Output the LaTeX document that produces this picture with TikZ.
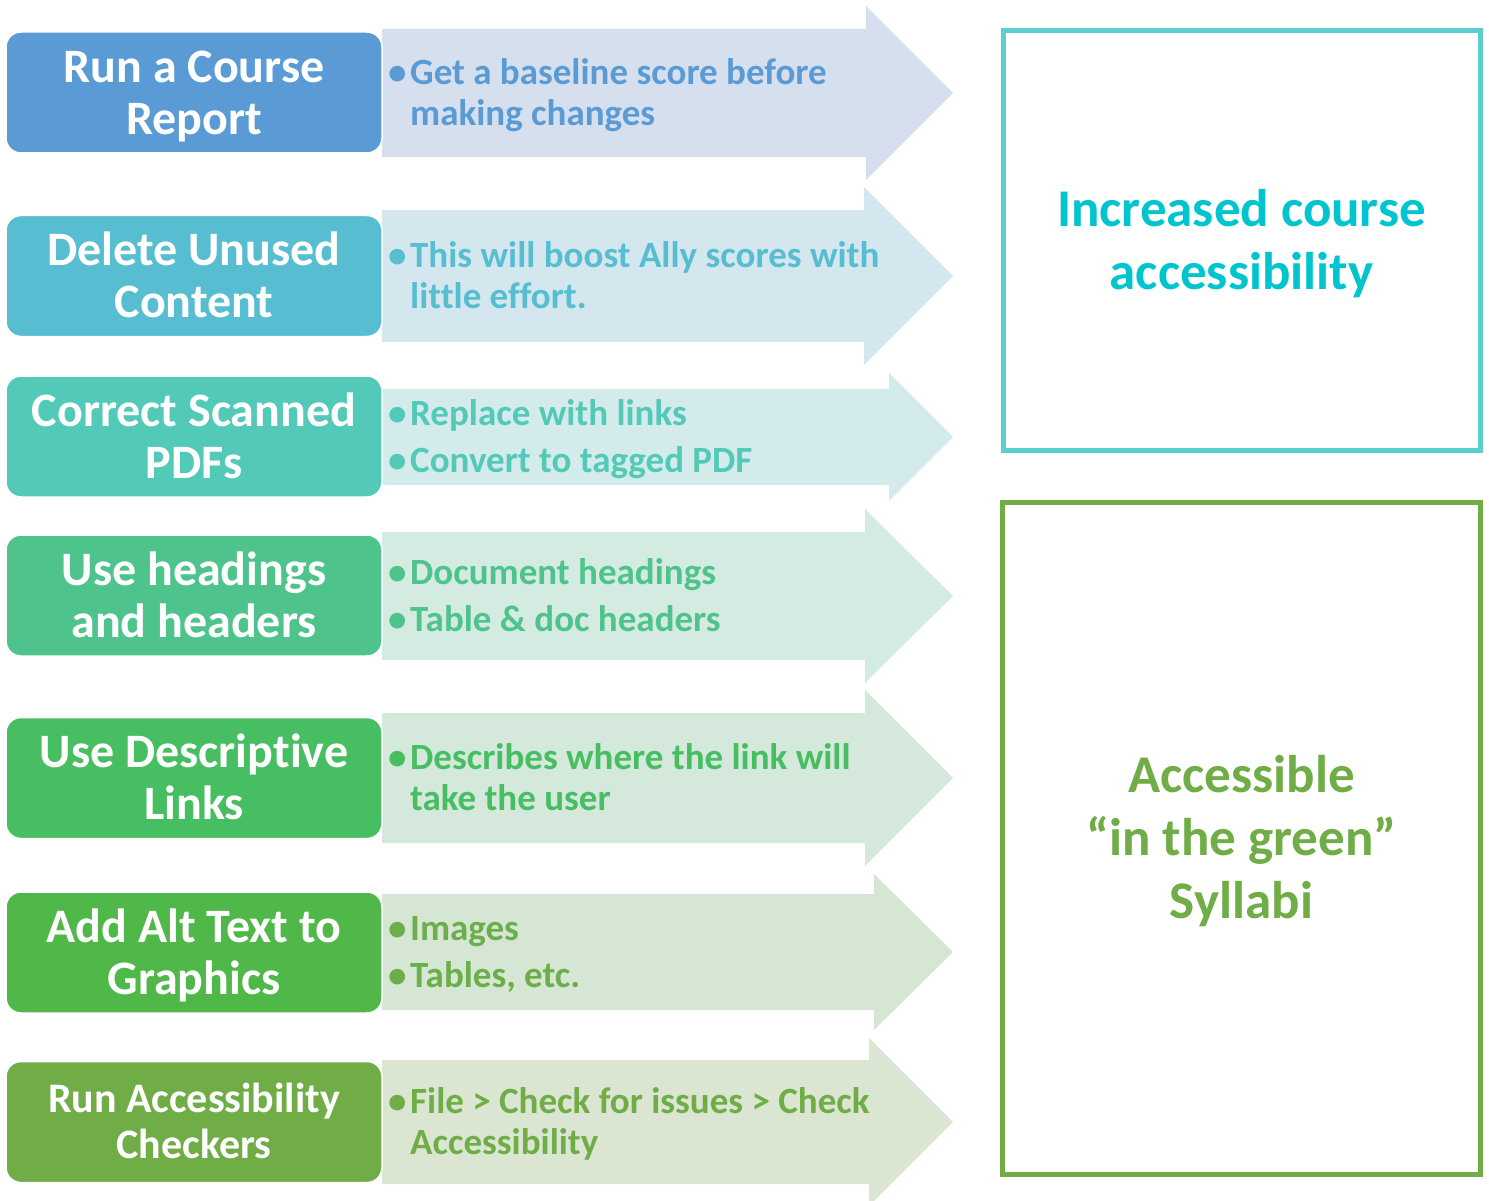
\documentclass[tikz,border=0pt]{standalone}
\usepackage{fontspec}
\setmainfont{Carlito}[Ligatures=NoCommon]

\definecolor{boxA}{HTML}{5B9BD5}
\definecolor{boxB}{HTML}{57BDD0}
\definecolor{boxC}{HTML}{53C9B7}
\definecolor{boxD}{HTML}{4EC48C}
\definecolor{boxE}{HTML}{48BE63}
\definecolor{boxF}{HTML}{50B848}
\definecolor{boxG}{HTML}{70AD47}
\definecolor{bandA}{HTML}{D6DFEE}
\definecolor{bandB}{HTML}{D4E7EF}
\definecolor{bandC}{HTML}{D4EBEB}
\definecolor{bandD}{HTML}{D4EBE2}
\definecolor{bandE}{HTML}{D4E8DB}
\definecolor{bandF}{HTML}{D5E7D4}
\definecolor{bandG}{HTML}{DAE5D2}
\definecolor{noteF}{HTML}{6CAE4A}
\definecolor{goalcyan}{HTML}{5BCFD0}
\definecolor{goalcyantext}{HTML}{00C5CE}

\newcommand{\dotitem}{\makebox[22pt][l]{•}}
\newcommand{\hitop}{\rule{0pt}{0.9em}}
\newcommand{\lobot}{\rule[-0.25em]{0pt}{0.25em}}

\begin{document}
\begin{tikzpicture}[x=1pt,y=-1pt,
        stepbox/.style={rectangle,rounded corners=15pt,draw=white,line width=1.5pt,
            minimum width=376pt,minimum height=121pt,inner sep=0pt,
            text=white,align=center,font=\fontsize{48}{52}\selectfont\bfseries},
        note/.style={anchor=west,align=left,inner sep=0pt,
            font=\fontsize{37}{41}\selectfont\bfseries},
        goal/.style={rectangle,draw,line width=5pt,inner sep=0pt,align=center,
            font=\fontsize{53}{63}\selectfont\bfseries}
    ]
        \path[use as bounding box,clip] (0,0) rectangle (1489,1201);

        % Draw the arrows behind the steps
        \fill[bandA] (382,29) -- (866,29) -- (866,6) -- (953,93) -- (866,180) -- (866,157) -- (382,157) -- cycle;
        \fill[bandB] (382,210) -- (864,210) -- (864,187) -- (953,276) -- (864,365) -- (864,342) -- (382,342) -- cycle;
        \fill[bandC] (382,389) -- (889,389) -- (889,373) -- (953,437) -- (889,501) -- (889,485) -- (382,485) -- cycle;
        \fill[bandD] (382,532) -- (865,532) -- (865,509) -- (953,596) -- (865,683) -- (865,660) -- (382,660) -- cycle;
        \fill[bandE] (382,713) -- (865,713) -- (865,690) -- (953,778) -- (865,866) -- (865,843) -- (382,843) -- cycle;
        \fill[bandF] (382,894) -- (874,894) -- (874,874) -- (953,952) -- (874,1030) -- (874,1010) -- (382,1010) -- cycle;
        \fill[bandG] (382,1060) -- (869,1060) -- (869,1038) -- (953,1122) -- (869,1206) -- (869,1184) -- (382,1184) -- cycle;

        % Define the steps
        \node[stepbox,fill=boxA] (run) at (194,92.5) {\hitop Run a Course\\Report\lobot};
        \node[stepbox,fill=boxB] (delete) at (194,276) {\hitop Delete Unused\\Content\lobot};
        \node[stepbox,fill=boxC] (scanned) at (194,436.5) {\hitop Correct Scanned\\PDFs\lobot};
        \node[stepbox,fill=boxD] (headings) at (194,595.5) {\hitop Use headings\\and headers\lobot};
        \node[stepbox,fill=boxE] (links) at (194,778) {\hitop Use Descriptive\\Links\lobot};
        \node[stepbox,fill=boxF] (alttext) at (194,952.5) {\hitop Add Alt Text to\\Graphics\lobot};
        \node[stepbox,fill=boxG,font=\fontsize{42}{46}\selectfont\bfseries] (checkers) at (194,1122) {\hitop Run Accessibility\\Checkers\lobot};

        % Define the notes on the arrows
        \node[note,text=boxA] (runnote) at (388,93) {\hitop\dotitem Get a baseline score before\\\hspace*{22pt}making changes\lobot};
        \node[note,text=boxB] (deletenote) at (388,276) {\hitop\dotitem This will boost Ally scores with\\\hspace*{22pt}little effort.\lobot};
        \node[note,text=boxC] (scannednote) at (388,437) {\hitop\dotitem Replace with links\\[6pt]\dotitem Convert to tagged PDF\lobot};
        \node[note,text=boxD] (headingsnote) at (388,596) {\hitop\dotitem Document headings\\[6pt]\dotitem Table \& doc headers\lobot};
        \node[note,text=boxE] (linksnote) at (388,778) {\hitop\dotitem Describes where the link will\\\hspace*{22pt}take the user\lobot};
        \node[note,text=noteF] (alttextnote) at (388,952) {\hitop\dotitem Images\\[6pt]\dotitem Tables, etc.\lobot};
        \node[note,text=boxG] (checkersnote) at (388,1122) {\hitop\dotitem File > Check for issues > Check\\\hspace*{22pt}Accessibility\lobot};

        % Define the outcomes
        \node[goal,draw=goalcyan,text=goalcyantext,minimum width=477pt,minimum height=419pt] (course) at (1241.5,240.5) {\hitop Increased course\\accessibility\lobot};
        \node[goal,draw=boxG,text=boxG,minimum width=478pt,minimum height=672pt] (syllabi) at (1241.5,838.5) {\hitop Accessible\\“in the green”\\Syllabi\lobot};
    \end{tikzpicture}
\end{document}
